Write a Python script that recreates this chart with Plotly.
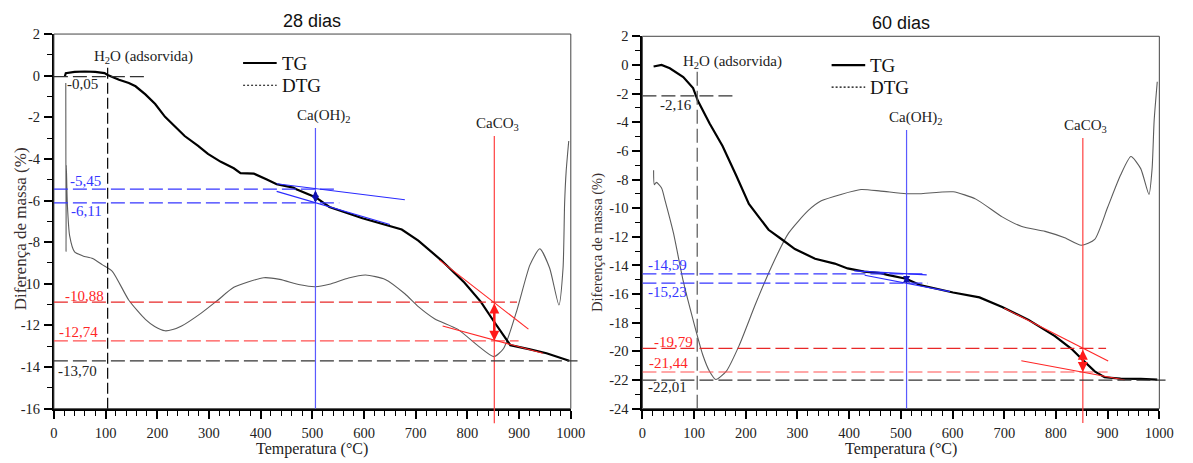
import plotly.graph_objects as go

# ---------------- common axis data ----------------
T_RANGE = [0, 1000]
T_TICKS = list(range(0, 1001, 100))

# ---------------- 28 dias ----------------
tg28_t = [21, 23, 40, 60, 80, 98, 104, 126, 145, 158, 177, 196, 215, 234, 253, 279, 298, 323, 348,
          361, 387, 412, 431, 463, 469, 506, 533, 597, 647, 673, 705, 749, 794, 826, 851, 877,
          883, 921, 953, 991, 997]
tg28_v = [-0.05, 0.12, 0.18, 0.2, 0.18, 0.12, 0.03, -0.2, -0.35, -0.51, -0.9, -1.36, -1.98, -2.44,
          -2.9, -3.37, -3.76, -4.14, -4.45, -4.68, -4.71, -4.99, -5.22, -5.38, -5.46, -5.84, -6.31,
          -6.85, -7.2, -7.39, -7.93, -8.86, -9.94, -10.87, -11.8, -12.72, -12.95, -13.15, -13.34,
          -13.65, -13.70]
dtg28_t = [23, 23.5, 24, 26, 30.5, 40, 56, 75, 94, 113, 145, 177, 195, 215, 230, 247, 285, 317,
           348, 406, 437, 476, 506, 533, 570, 603, 641, 679, 705, 737, 781, 819, 851, 870, 896,
           921, 940, 959, 977, 985, 988, 991, 996]
dtg28_v = [-0.35, -8.46, -4.3, -6.15, -7.7, -8.47, -8.66, -8.78, -9.09, -9.4, -10.79, -11.71,
           -12.05, -12.26, -12.2, -12.03, -11.41, -10.79, -10.17, -9.71, -9.79, -10.05, -10.14,
           -10.02, -9.72, -9.58, -9.79, -10.48, -11.1, -11.69, -12.18, -12.95, -13.5, -13.11,
           -11.25, -9.09, -8.32, -9.24, -11.02, -9.24, -6.15, -4.6, -3.14]
y28_range = [-16, 2]
y28_ticks = list(range(-16, 3, 2))

h2o28_t = 104
caoh28_t = 506
caco28_t = 852
h2o28_level = -0.05
caoh28_levels = [-5.45, -6.11]
caco28_levels = [-10.88, -12.74]
final28_level = -13.70
h2o28_top = 0.5
caoh28_top = -2.52
caco28_top = -2.9
caco28_floor = -16.7
caoh28_tan_t = [[431, 679], [431, 650]]
caoh28_tan_v = [[-5.19, -5.96], [-5.56, -7.15]]
caco28_tan_t = [[746, 918], [752, 946]]
caco28_tan_v = [[-8.86, -12.18], [-12.03, -13.34]]
h2o28_end = 177
caoh28_end = [550, 552]
caco28_end = [896, 899]
final28_end = 1013

# ---------------- 60 dias ----------------
tg60_t = [21.6, 30, 37, 53, 79, 98, 107.5, 130, 155, 181, 200, 206, 225, 244, 270, 295, 334, 372,
          397, 429, 461, 474, 510, 537, 601, 652, 696, 747, 798, 830, 852, 875, 894, 925, 964, 996]
tg60_v = [-0.11, -0.05, 0.0, -0.23, -0.84, -1.62, -2.52, -4.09, -5.66, -7.69, -9.26, -9.71,
          -10.61, -11.51, -12.19, -12.86, -13.53, -13.87, -14.21, -14.43, -14.54, -14.66, -14.93,
          -15.37, -15.89, -16.23, -16.9, -17.8, -18.93, -19.82, -20.61, -21.4, -21.81, -21.9,
          -21.92, -21.98]
dtg60_t = [21.6, 23, 27, 37, 44, 60, 79, 98, 117, 130, 142, 162, 187, 219, 251, 283, 321, 346,
           384, 423, 461, 510, 537, 601, 645, 696, 734, 779, 817, 849, 875, 900, 925, 945, 964,
           980, 986, 990, 996]
dtg60_v = [-7.35, -8.36, -8.2, -8.59, -9.49, -11.73, -15.1, -17.8, -20.27, -21.4, -21.96, -21.4,
           -19.6, -16.68, -13.98, -11.73, -10.16, -9.49, -9.04, -8.7, -8.81, -8.99, -8.99, -8.86,
           -9.37, -10.61, -11.28, -11.62, -12.07, -12.59, -12.18, -9.94, -7.69, -6.39, -7.24,
           -9.04, -7.24, -3.87, -1.17]
y60_range = [-24, 2]
y60_ticks = list(range(-24, 3, 2))

h2o60_t = 106
caoh60_t = 511
caco60_t = 852
h2o60_level = -2.16
caoh60_levels = [-14.59, -15.23]
caco60_levels = [-19.79, -21.44]
final60_level = -22.01
h2o60_top = -0.38
caoh60_top = -4.54
caco60_top = -5.1
caco60_floor = -25.0
caoh60_tan_t = [[410, 550], [430, 595]]
caoh60_tan_v = [[-14.38, -14.66], [-14.69, -15.83]]
caco60_tan_t = [[700, 901], [733, 933]]
caco60_tan_v = [[-16.99, -20.68], [-20.65, -22.0]]
h2o60_end = 180
caoh60_end = [550, 552]
caco60_end = [897, 900]
final60_end = 1012

SERIF = "Liberation Serif"
SANS = "Liberation Sans"
BLUE = "#3636ff"
BLUE_V = "#5a5aff"
RED = "#ff2626"
RED_LIGHT = "#ff5050"
DARK = "#333333"
LONG_DASH = "14px,5px"


def fmt(v):
    return f"{v:.2f}".replace(".", ",")


fig = go.Figure()
shapes = []
annotations = []


def panel(xa, ya, title, yrange, tg_t, tg_v, dtg_t, dtg_v,
          h2o_t, caoh_t, caco_t, h2o_level, caoh_levels, caco_levels, final_level,
          h2o_top, caoh_top, caco_top, caco_floor,
          caoh_tan_t, caoh_tan_v, caco_tan_t, caco_tan_v,
          h2o_end, caoh_end, caco_end, final_end,
          label_shifts, h2o_dash_color, ytitle_size, ytitle_shift):
    xr = xa.replace("axis", "")
    yr = ya.replace("axis", "")
    xd = xr + " domain"
    yd = yr + " domain"

    def yfrac(v):
        return (v - yrange[0]) / (yrange[1] - yrange[0])

    def xfrac(t):
        return (t - T_RANGE[0]) / (T_RANGE[1] - T_RANGE[0])

    def hline(v, t_end, color, width=1.2, dash=LONG_DASH):
        shapes.append(dict(type="line", xref=xr, yref=yr, x0=0, x1=t_end, y0=v, y1=v,
                           line=dict(color=color, width=width, dash=dash), layer="above"))

    def seg(ts, vs, color, width=1.1):
        shapes.append(dict(type="line", xref=xr, yref=yr, x0=ts[0], x1=ts[1], y0=vs[0], y1=vs[1],
                           line=dict(color=color, width=width), layer="above"))

    def vlabel(v, t, text, color, yshift):
        annotations.append(dict(xref=xr, yref=yr, x=t, y=v, text=text, showarrow=False,
                                xanchor="left", yanchor="middle", yshift=yshift,
                                font=dict(family=SERIF, size=15, color=color)))

    # curves
    fig.add_trace(go.Scatter(x=dtg_t, y=dtg_v, mode="lines", xaxis=xr, yaxis=yr,
                             line=dict(color="#5c5c5c", width=1.1, shape="spline", smoothing=0.6),
                             showlegend=False, hoverinfo="skip"))
    fig.add_trace(go.Scatter(x=tg_t, y=tg_v, mode="lines", xaxis=xr, yaxis=yr,
                             line=dict(color="black", width=2.2), showlegend=False,
                             hoverinfo="skip"))

    # plot frame
    shapes.append(dict(type="rect", xref=xd, yref=yd, x0=0, x1=1, y0=0, y1=1,
                       line=dict(color="#444", width=1), layer="above"))

    # adsorbed water marker
    shapes.append(dict(type="line", xref=xr, yref=yr, x0=h2o_t, x1=h2o_t, y0=yrange[0], y1=h2o_top,
                       line=dict(color=h2o_dash_color, width=1.2,
                                 dash="11px,4px" if h2o_dash_color == "black" else LONG_DASH),
                       layer="above"))
    hline(h2o_level, h2o_end, DARK)
    annotations.append(dict(xref=xr, yref=yr, x=h2o_t, y=h2o_top, text="H<sub>2</sub>O (adsorvida)",
                            showarrow=False, xanchor="left", yanchor="middle",
                            xshift=-16, yshift=8, font=dict(family=SERIF, size=15, color="#222")))

    # Ca(OH)2 marker
    shapes.append(dict(type="line", xref=xr, yref=yr, x0=caoh_t, x1=caoh_t, y0=yrange[0], y1=caoh_top,
                       line=dict(color=BLUE_V, width=1.2), layer="above"))
    annotations.append(dict(xref=xr, yref=yr, x=caoh_t, y=caoh_top, text="Ca(OH)<sub>2</sub>",
                            showarrow=False, xanchor="center", yanchor="bottom",
                            xshift=9, yshift=1, font=dict(family=SERIF, size=15, color="#222")))
    for v, t_end in zip(caoh_levels, caoh_end):
        hline(v, t_end, BLUE)
    for ts, vs in zip(caoh_tan_t, caoh_tan_v):
        seg(ts, vs, "#2a2aff")
    annotations.append(dict(xref=xr, yref=yr, axref=xr, ayref=yr, x=caoh_t, y=caoh_levels[1],
                            ax=caoh_t, ay=caoh_levels[0], text="", showarrow=True,
                            arrowside="end+start", arrowhead=2, arrowsize=0.7, arrowwidth=2,
                            arrowcolor="#1010b0", standoff=0, startstandoff=0))

    # CaCO3 marker (line runs slightly below the axis)
    shapes.append(dict(type="line", xref=xr, yref=yd, x0=caco_t, x1=caco_t,
                       y0=yfrac(caco_floor), y1=yfrac(caco_top),
                       line=dict(color="#ff4040", width=1.2), layer="above"))
    annotations.append(dict(xref=xr, yref=yr, x=caco_t, y=caco_top, text="CaCO<sub>3</sub>",
                            showarrow=False, xanchor="center", yanchor="bottom",
                            xshift=3, yshift=1, font=dict(family=SERIF, size=15, color="#222")))
    hline(caco_levels[0], caco_end[0], "#e82828")
    hline(caco_levels[1], caco_end[1], RED_LIGHT)
    for ts, vs in zip(caco_tan_t, caco_tan_v):
        seg(ts, vs, RED)
    annotations.append(dict(xref=xr, yref=yr, axref=xr, ayref=yr, x=caco_t, y=caco_levels[1],
                            ax=caco_t, ay=caco_levels[0], text="", showarrow=True,
                            arrowside="end+start", arrowhead=2, arrowsize=0.8, arrowwidth=2.5,
                            arrowcolor="#ff1a1a", standoff=0, startstandoff=0))

    # final residue level (extends just past the frame)
    shapes.append(dict(type="line", xref=xd, yref=yr, x0=0, x1=xfrac(final_end),
                       y0=final_level, y1=final_level,
                       line=dict(color=DARK, width=1.2, dash=LONG_DASH), layer="above"))

    # value labels
    levels = [h2o_level, caoh_levels[0], caoh_levels[1], caco_levels[0], caco_levels[1], final_level]
    colors = ["#222", BLUE, BLUE, RED, RED, "#222"]
    for v, c, (t, ys) in zip(levels, colors, label_shifts):
        vlabel(v, t, fmt(v), c, ys)

    # legend
    for yy, dash, w in [(0.9227, "solid", 2.2), (0.8634, "2px,2px", 1.2)]:
        shapes.append(dict(type="line", xref=xd, yref=yd, x0=0.366, x1=0.431, y0=yy, y1=yy,
                           line=dict(color="black", width=w, dash=dash), layer="above"))
    for yy, txt in [(0.9227, "TG"), (0.8634, "DTG")]:
        annotations.append(dict(xref=xd, yref=yd, x=0.437, y=yy, text=txt, showarrow=False,
                                xanchor="left", yanchor="middle",
                                font=dict(family=SERIF, size=19, color="#111")))

    # titles
    annotations.append(dict(xref=xd, yref=yd, x=0.5, y=1, text=title, showarrow=False,
                            xanchor="center", yanchor="bottom", yshift=1,
                            font=dict(family=SANS, size=18, color="#111")))
    annotations.append(dict(xref=xd, yref=yd, x=0.5, y=0, text="Temperatura (°C)",
                            showarrow=False, xanchor="center", yanchor="top", yshift=-29,
                            font=dict(family=SERIF, size=16, color="#222")))
    annotations.append(dict(xref=xd, yref=yd, x=0, y=0.5, text="Diferença de massa (%)",
                            showarrow=False, xanchor="center", yanchor="middle", textangle=-90,
                            xshift=ytitle_shift[0], yshift=ytitle_shift[1],
                            font=dict(family=SERIF, size=ytitle_size, color="#3a3030")))


panel("xaxis", "yaxis", "28 dias", y28_range, tg28_t, tg28_v, dtg28_t, dtg28_v,
      h2o28_t, caoh28_t, caco28_t, h2o28_level, caoh28_levels, caco28_levels, final28_level,
      h2o28_top, caoh28_top, caco28_top, caco28_floor,
      caoh28_tan_t, caoh28_tan_v, caco28_tan_t, caco28_tan_v,
      h2o28_end, caoh28_end, caco28_end, final28_end,
      [(22, -7), (27, 8), (30, -8), (18, 6), (6, 9), (4, -10)], "black", 17, (-34, -7))

panel("xaxis2", "yaxis2", "60 dias", y60_range, tg60_t, tg60_v, dtg60_t, dtg60_v,
      h2o60_t, caoh60_t, caco60_t, h2o60_level, caoh60_levels, caco60_levels, final60_level,
      h2o60_top, caoh60_top, caco60_top, caco60_floor,
      caoh60_tan_t, caoh60_tan_v, caco60_tan_t, caco60_tan_v,
      h2o60_end, caoh60_end, caco60_end, final60_end,
      [(31, -9), (6.5, 9), (6.5, -9), (18, 6), (8, 9), (6.5, -7)], "#555555", 14.5, (-45, -20))


def xaxis_cfg(domain, anchor):
    return dict(range=T_RANGE, domain=domain, anchor=anchor, showgrid=False, zeroline=False,
                showline=True, linecolor="black", linewidth=2, ticks="outside", ticklen=8,
                tickwidth=1.5, tickcolor="black", tickmode="array", tickvals=T_TICKS,
                ticktext=[str(t) for t in T_TICKS], ticklabelstandoff=2,
                minor=dict(ticks="outside", ticklen=5, tickwidth=1.3, tickcolor="black",
                           dtick=20, tick0=0, showgrid=False),
                tickfont=dict(family=SERIF, size=14.5, color="#222"))


def yaxis_cfg(domain, anchor, rng, ticks):
    return dict(range=rng, domain=domain, anchor=anchor, showgrid=False, zeroline=False,
                showline=True, linecolor="black", linewidth=2, ticks="outside", ticklen=8,
                tickwidth=1.5, tickcolor="black", tickmode="array", tickvals=ticks,
                ticktext=[str(t) for t in ticks], ticklabelstandoff=1,
                minor=dict(ticks="outside", ticklen=5, tickwidth=1.3, tickcolor="black",
                           dtick=1, tick0=0, showgrid=False),
                tickfont=dict(family=SERIF, size=14.5, color="#222"))


fig.update_layout(
    width=1193, height=463,
    margin=dict(l=0, r=0, t=0, b=0),
    paper_bgcolor="white", plot_bgcolor="white",
    showlegend=False,
    xaxis=xaxis_cfg([0.0425, 0.4828], "y"),
    yaxis=yaxis_cfg([0.1037, 0.9417], "x", y28_range, y28_ticks),
    xaxis2=xaxis_cfg([0.5438, 0.9841], "y2"),
    yaxis2=yaxis_cfg([0.1037, 0.9367], "x2", y60_range, y60_ticks),
    shapes=shapes,
    annotations=annotations,
)

fig.write_html("out.html")
